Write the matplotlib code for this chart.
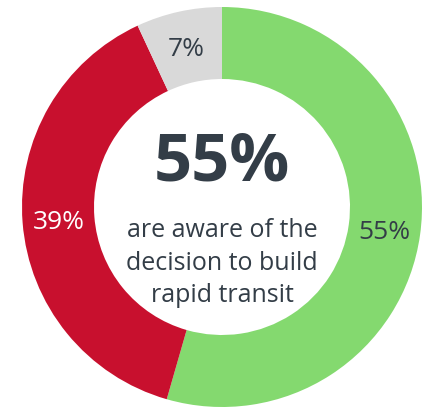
import matplotlib.pyplot as plt

labels = ['55%', '39%', '7%']
values = [55, 39, 7]
colors = ['#84d96f', '#c8102e', '#d9d9d9']
text_colors = ['#333d47', 'white', '#333d47']
headline = '55%'
caption = 'are aware of the\ndecision to build\nrapid transit'

plt.rcParams['font.family'] = ['Open Sans', 'DejaVu Sans']

fig = plt.figure(figsize=(4.24, 4.12), dpi=100)
ax = fig.add_axes([0, 0, 1, 1])

wedges, texts = ax.pie(values, colors=colors, startangle=90, counterclock=False,
                       radius=1.0, wedgeprops=dict(width=0.36, linewidth=0),
                       labels=labels, labeldistance=0.82)
for t, c in zip(texts, text_colors):
    t.set_color(c)
    t.set_fontsize(19)
    t.set_ha('center')
    t.set_va('center_baseline')

ax.text(0, 0.22, headline, ha='center', va='center', fontsize=48,
        fontweight='bold', color='#333d47')
ax.text(0, -0.28, caption, ha='center', va='center', fontsize=18,
        color='#333d47', linespacing=1.4)

ax.set_aspect('equal')
ax.set_xlim(-1.11, 1.01)
ax.set_ylim(-1.025, 1.035)
ax.axis('off')

fig.savefig('out.png', dpi=100)
